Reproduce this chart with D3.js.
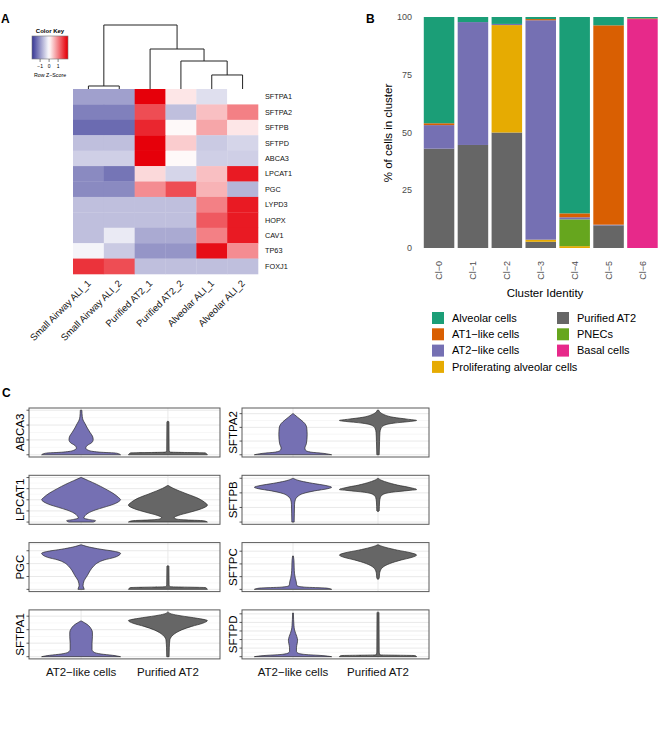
<!DOCTYPE html>
<html><head><meta charset="utf-8">
<script src="https://cdn.jsdelivr.net/npm/d3@7"></script>
<style>body{margin:0;background:#fff} svg{display:block;font-family:"Liberation Sans",Arial,Helvetica,sans-serif}</style>
</head><body><svg id="c" width="669" height="736"></svg>
<script>
// ================= Panel A data =================
const heatSamples = ["Small Airway ALI_1","Small Airway ALI_2","Purified AT2_1","Purified AT2_2","Alveolar ALI_1","Alveolar ALI_2"];
const heatGenes = ["SFTPA1","SFTPA2","SFTPB","SFTPD","ABCA3","LPCAT1","PGC","LYPD3","HOPX","CAV1","TP63","FOXJ1"];
const heatZ = [
  [-0.9,-0.9, 2.0, 0.2,-0.3, 0.0],
  [-1.2,-1.2, 1.4,-0.6, 0.5, 1.0],
  [-1.4,-1.4, 1.7, 0.05,0.7, 0.2],
  [-0.6,-0.6, 2.0, 0.4,-0.5,-0.4],
  [-0.45,-0.45,2.0,0.05,-0.45,-0.45],
  [-1.1,-1.3, 0.3,-0.4, 0.5, 1.8],
  [-1.1,-1.1, 0.9, 1.4, 0.6,-0.7],
  [-0.6,-0.6,-0.6,-0.6, 1.0, 1.8],
  [-0.6,-0.6,-0.6,-0.6, 1.3, 1.8],
  [-0.6,-0.2,-0.8,-0.8, 1.0, 1.8],
  [-0.1,-0.5,-1.0,-1.0, 1.9, 0.9],
  [ 1.6, 1.4,-0.6,-0.6,-0.6,-0.6]
];
const keyTicks = [-1, 0, 1];
// dendrogram (merge heights)
const dendroTree = {h:10, children:[
  {h:0.47, children:[{leaf:0},{leaf:1}]},
  {h:6.25, children:[{leaf:2},{h:4.375, children:[{leaf:3},{h:2.19, children:[{leaf:4},{leaf:5}]}]}]}
]};

// ================= Panel B data =================
const clusters = ["Cl\u22120","Cl\u22121","Cl\u22122","Cl\u22123","Cl\u22124","Cl\u22125","Cl\u22126"];
const legendTypes = ["Alveolar cells","AT1\u2212like cells","AT2\u2212like cells","Proliferating alveolar cells","Purified AT2","PNECs","Basal cells"];
const legendColors = ["#1B9E77","#D95F02","#7570B3","#E6AB02","#666666","#66A61E","#E7298A"];
const stackOrder = ["Basal cells","Purified AT2","Proliferating alveolar cells","PNECs","AT2\u2212like cells","AT1\u2212like cells","Alveolar cells"];
const pctAlveolar = [46.0, 2.2, 3.0, 0.9, 85.0, 3.6, 0.6];
const pctAT1      = [ 0.8, 0.0, 0.0, 0.5,  1.7,86.3, 0.3];
const pctAT2      = [10.2,53.2, 0.5,95.0,  0.9, 0.3, 0.0];
const pctProlif   = [ 0.0, 0.0,46.5, 0.9,  0.8, 0.0, 0.0];
const pctPurified = [43.0,44.6,50.0, 2.7,  0.0, 9.8, 0.0];
const pctPNEC     = [ 0.0, 0.0, 0.0, 0.0, 11.6, 0.0, 0.0];
const pctBasal    = [ 0.0, 0.0, 0.0, 0.0,  0.0, 0.0,99.1];
const pctTicks = [0, 25, 50, 75, 100];

// ================= Panel C data =================
const violinGroups = ["AT2\u2212like cells","Purified AT2"];
const violinColors = ["#7570B3","#666666"];
const genesLeft = ["ABCA3","LPCAT1","PGC","SFTPA1"];
const genesRight = ["SFTPA2","SFTPB","SFTPC","SFTPD"];
const yMaxLeft = [3.0, 4.0, 3.46, 3.3];
const yMaxRight = [3.25, 3.05, 3.5, 5.2];
// violin outlines: [fraction of max expression, fraction of max half-width]
const vABCA3 = [
  [[0,1],[0.035,0.9],[0.06,0.45],[0.1,0.18],[0.15,0.11],[0.21,0.15],[0.27,0.26],[0.34,0.3],[0.42,0.28],[0.5,0.22],[0.6,0.15],[0.7,0.09],[0.78,0.04],[0.86,0.02],[1,0.01]],
  [[0,1],[0.04,0.95],[0.06,0.05],[0.1,0.02],[0.74,0.015],[0.75,0]]
];
const vLPCAT1 = [
  [[0,0.3],[0.03,0.36],[0.06,0.18],[0.09,0.06],[0.13,0.08],[0.2,0.17],[0.27,0.35],[0.33,0.57],[0.4,0.82],[0.47,0.97],[0.5,1],[0.55,0.95],[0.65,0.8],[0.75,0.6],[0.85,0.38],[0.93,0.18],[1,0]],
  [[0,1],[0.03,0.9],[0.05,0.4],[0.07,0.2],[0.1,0.15],[0.15,0.26],[0.22,0.55],[0.3,0.85],[0.38,1],[0.45,0.92],[0.55,0.72],[0.63,0.48],[0.7,0.28],[0.76,0.12],[0.82,0]]
];
const vPGC = [
  [[0,0.07],[0.03,0.06],[0.08,0.04],[0.2,0.07],[0.31,0.15],[0.42,0.22],[0.53,0.32],[0.6,0.42],[0.66,0.58],[0.72,0.85],[0.78,0.98],[0.81,1],[0.86,0.8],[0.9,0.5],[0.95,0.2],[1,0]],
  [[0,1],[0.04,0.95],[0.06,0.05],[0.1,0.02],[0.52,0.015],[0.53,0]]
];
const vSFTPA1 = [
  [[0,1],[0.03,0.8],[0.06,0.5],[0.1,0.32],[0.16,0.27],[0.3,0.27],[0.45,0.28],[0.55,0.28],[0.62,0.25],[0.7,0.18],[0.76,0.08],[0.8,0]],
  [[0,0.02],[0.2,0.025],[0.38,0.04],[0.45,0.08],[0.52,0.17],[0.6,0.34],[0.68,0.6],[0.75,0.88],[0.81,1],[0.86,0.75],[0.92,0.3],[0.96,0.08],[1,0]]
];
const vSFTPA2 = [
  [[0,1],[0.03,0.8],[0.06,0.45],[0.1,0.32],[0.15,0.3],[0.25,0.34],[0.45,0.36],[0.6,0.35],[0.7,0.3],[0.78,0.2],[0.85,0.1],[0.9,0.03],[0.92,0]],
  [[0,0.02],[0.3,0.03],[0.5,0.04],[0.6,0.07],[0.66,0.15],[0.71,0.4],[0.75,0.85],[0.77,1],[0.8,0.75],[0.84,0.4],[0.9,0.15],[0.95,0.05],[1,0.01]]
];
const vSFTPB = [
  [[0,0.02],[0.2,0.025],[0.4,0.03],[0.5,0.05],[0.58,0.12],[0.64,0.25],[0.7,0.55],[0.75,0.9],[0.78,1],[0.82,0.85],[0.87,0.5],[0.92,0.2],[0.96,0.05],[0.98,0]],
  [[0.24,0],[0.25,0.02],[0.45,0.03],[0.55,0.05],[0.62,0.12],[0.67,0.35],[0.71,0.8],[0.73,1],[0.77,0.85],[0.83,0.5],[0.9,0.2],[0.95,0.05],[0.98,0]]
];
const vSFTPC = [
  [[0,1],[0.03,0.85],[0.05,0.3],[0.08,0.1],[0.12,0.08],[0.17,0.075],[0.25,0.05],[0.35,0.03],[0.5,0.02],[0.65,0.015],[0.75,0]],
  [[0.23,0],[0.25,0.02],[0.35,0.03],[0.42,0.05],[0.5,0.12],[0.58,0.3],[0.66,0.6],[0.72,0.88],[0.77,1],[0.82,0.85],[0.88,0.5],[0.94,0.2],[0.98,0.05],[1,0]]
];
const vSFTPD = [
  [[0,1],[0.025,0.75],[0.05,0.3],[0.08,0.12],[0.12,0.08],[0.2,0.08],[0.3,0.1],[0.37,0.11],[0.45,0.09],[0.52,0.06],[0.6,0.03],[0.7,0.015],[0.98,0]],
  [[0,1],[0.025,0.95],[0.04,0.05],[0.1,0.02],[0.99,0.015],[1,0]]
];
const profilesLeft = [vABCA3, vLPCAT1, vPGC, vSFTPA1];
const profilesRight = [vSFTPA2, vSFTPB, vSFTPC, vSFTPD];

// ================= Drawing =================
const svg = d3.select("#c");

function panelLabel(t, x, y){
  svg.append("text").attr("x",x).attr("y",y).attr("font-size",12).attr("font-weight","bold").text(t);
}
panelLabel("A", 1, 23);
panelLabel("B", 366, 23);
panelLabel("C", 2, 397);

// ---------- Panel A ----------
const zColor = d3.scaleLinear().domain([-2,0,2]).range(["#2b2b8f","#ffffff","#e6000a"]).clamp(true);
const hx = d3.scaleBand().domain(heatSamples).range([73,258]);
const hy = d3.scaleBand().domain(heatGenes).range([89,274]);
const gA = svg.append("g");
heatGenes.forEach((g,i)=>{
  heatSamples.forEach((s,j)=>{
    gA.append("rect").attr("x",hx(s)).attr("y",hy(g)).attr("width",hx.bandwidth()+0.3).attr("height",hy.bandwidth()+0.3)
      .attr("fill",zColor(heatZ[i][j]));
  });
  gA.append("text").attr("x",265).attr("y",hy(g)+hy.bandwidth()/2).attr("dy","0.35em")
    .attr("font-size",7.3).attr("fill","#111").text(g);
});
heatSamples.forEach(s=>{
  const cx = hx(s)+hx.bandwidth()/2;
  gA.append("text").attr("transform",`translate(${cx+3},${284}) rotate(-45)`)
    .attr("text-anchor","end").attr("font-size",9.5).attr("fill","#111").text(s);
});
// dendrogram
const dy = d3.scaleLinear().domain([0,10]).range([89,25]);
function drawDendro(node){
  if(node.leaf!==undefined){ return {x: hx(heatSamples[node.leaf])+hx.bandwidth()/2, h:0}; }
  const kids = node.children.map(drawDendro);
  const xs = kids.map(k=>k.x);
  gA.append("line").attr("x1",d3.min(xs)).attr("x2",d3.max(xs)).attr("y1",dy(node.h)).attr("y2",dy(node.h))
    .attr("stroke","#222").attr("stroke-width",1);
  kids.forEach(k=>{
    gA.append("line").attr("x1",k.x).attr("x2",k.x).attr("y1",dy(node.h)).attr("y2",dy(k.h))
      .attr("stroke","#222").attr("stroke-width",1);
  });
  return {x: d3.mean(xs), h: node.h};
}
drawDendro(dendroTree);
// color key
const kx = d3.scaleLinear().domain([-1.9,2.1]).range([32,68]);
const defs = svg.append("defs");
const grad = defs.append("linearGradient").attr("id","kg");
d3.range(0,1.0001,0.05).forEach(t=>{
  grad.append("stop").attr("offset",t).attr("stop-color",zColor(kx.invert(32+36*t)));
});
svg.append("text").attr("x",50).attr("y",33).attr("text-anchor","middle").attr("font-size",6).attr("font-weight","bold").text("Color Key");
svg.append("rect").attr("x",32).attr("y",36).attr("width",36).attr("height",23).attr("fill","url(#kg)").attr("stroke","#777").attr("stroke-width",0.6);
keyTicks.forEach(t=>{
  svg.append("line").attr("x1",kx(t)).attr("x2",kx(t)).attr("y1",59).attr("y2",62).attr("stroke","#333").attr("stroke-width",0.6);
  svg.append("text").attr("x",kx(t)).attr("y",68).attr("text-anchor","middle").attr("font-size",5).text(t===-1?"\u22121":t);
});
svg.append("text").attr("x",50).attr("y",77).attr("text-anchor","middle").attr("font-size",5.3).text("Row Z\u2212Score");

// ---------- Panel B ----------
const bx = d3.scaleBand().domain(clusters).range([418.7,662.8]).paddingInner(0.1).paddingOuter(0.15);
const by = d3.scaleLinear().domain([0,100]).range([248,17]);
const typeSeries = {"Alveolar cells":pctAlveolar,"AT1\u2212like cells":pctAT1,"AT2\u2212like cells":pctAT2,
  "Proliferating alveolar cells":pctProlif,"Purified AT2":pctPurified,"PNECs":pctPNEC,"Basal cells":pctBasal};
const rows = clusters.map((c,i)=>{ const r={cluster:c}; stackOrder.forEach(t=>r[t]=typeSeries[t][i]); return r; });
const stacked = d3.stack().keys(stackOrder)(rows);
const colorOf = d3.scaleOrdinal().domain(legendTypes).range(legendColors);
const gB = svg.append("g");
stacked.forEach(layer=>{
  gB.selectAll(null).data(layer).enter().append("rect")
    .attr("x",d=>bx(d.data.cluster)).attr("width",bx.bandwidth())
    .attr("y",d=>by(d[1])).attr("height",d=>Math.max(0,by(d[0])-by(d[1])))
    .attr("fill",colorOf(layer.key));
});
pctTicks.forEach(t=>{
  gB.append("text").attr("x",412).attr("y",by(t)).attr("dy","0.35em").attr("text-anchor","end")
    .attr("font-size",9).attr("fill","#4d4d4d").text(t);
});
clusters.forEach(c=>{
  gB.append("text").attr("transform",`translate(${bx(c)+bx.bandwidth()/2+3.3},${261}) rotate(-90)`)
    .attr("text-anchor","end").attr("font-size",9).attr("fill","#4d4d4d").text(c);
});
gB.append("text").attr("x",545).attr("y",297).attr("text-anchor","middle").attr("font-size",11.5).text("Cluster Identity");
gB.append("text").attr("transform","translate(392,133) rotate(-90)").attr("text-anchor","middle").attr("font-size",11.5).text("% of cells in cluster");
// legend
const legCols = [[0,1,2,3],[4,5,6]];
legCols.forEach((col,ci)=>{
  col.forEach((ti,ri)=>{
    const sx = ci===0?432:557, cy = 318+ri*16.3;
    gB.append("rect").attr("x",sx).attr("y",cy-6).attr("width",12).attr("height",12).attr("fill",legendColors[ti]);
    gB.append("text").attr("x",sx+20).attr("y",cy).attr("dy","0.35em").attr("font-size",11).text(legendTypes[ti]);
  });
});

// ---------- Panel C ----------
function violinColumn(genes, yMaxes, profiles, left, right){
  const vx = d3.scaleBand().domain(violinGroups).range([left,right]).paddingInner(0.1).paddingOuter(0.15);
  genes.forEach((gene,i)=>{
    const top = 408 + i*67.3, bot = top+49;
    const ym = yMaxes[i];
    const vy = d3.scaleLinear().domain([-0.05*ym, 1.05*ym]).range([bot, top]);
    const g = svg.append("g");
    const maj = d3.range(0, Math.floor(ym)+1);
    const minr = d3.range(0.5, ym*1.05, 1);
    minr.forEach(v=>g.append("line").attr("x1",left).attr("x2",right).attr("y1",vy(v)).attr("y2",vy(v)).attr("stroke","#f2f2f2").attr("stroke-width",0.6));
    maj.forEach(v=>g.append("line").attr("x1",left).attr("x2",right).attr("y1",vy(v)).attr("y2",vy(v)).attr("stroke","#e6e6e6").attr("stroke-width",0.9));
    violinGroups.forEach(grp=>{
      const cx = vx(grp)+vx.bandwidth()/2;
      g.append("line").attr("x1",cx).attr("x2",cx).attr("y1",top).attr("y2",bot).attr("stroke","#e6e6e6").attr("stroke-width",0.9);
    });
    violinGroups.forEach((grp,k)=>{
      const cx = vx(grp)+vx.bandwidth()/2, hw = vx.bandwidth()/2;
      const area = d3.area().curve(d3.curveMonotoneY)
        .y(d=>vy(d[0]*ym)).x0(d=>cx-d[1]*hw-0.4).x1(d=>cx+d[1]*hw+0.4);
      g.append("path").attr("d",area(profiles[i][k])).attr("fill",violinColors[k])
        .attr("stroke","#2a2a2a").attr("stroke-width",0.7).attr("stroke-linejoin","round");
    });
    g.append("rect").attr("x",left).attr("y",top).attr("width",right-left).attr("height",bot-top)
      .attr("fill","none").attr("stroke","#5a5a5a").attr("stroke-width",1);
    maj.forEach(v=>g.append("line").attr("x1",left-2.5).attr("x2",left).attr("y1",vy(v)).attr("y2",vy(v)).attr("stroke","#333").attr("stroke-width",0.8));
    g.append("text").attr("transform",`translate(${left-5},${(top+bot)/2}) rotate(-90)`).attr("text-anchor","middle")
      .attr("font-size",11.5).text(gene);
  });
  violinGroups.forEach(grp=>{
    svg.append("text").attr("x",vx(grp)+vx.bandwidth()/2).attr("y",676).attr("text-anchor","middle")
      .attr("font-size",11.5).attr("fill","#111").text(grp);
  });
}
violinColumn(genesLeft, yMaxLeft, profilesLeft, 29, 220);
violinColumn(genesRight, yMaxRight, profilesRight, 242, 429);
</script></body></html>
